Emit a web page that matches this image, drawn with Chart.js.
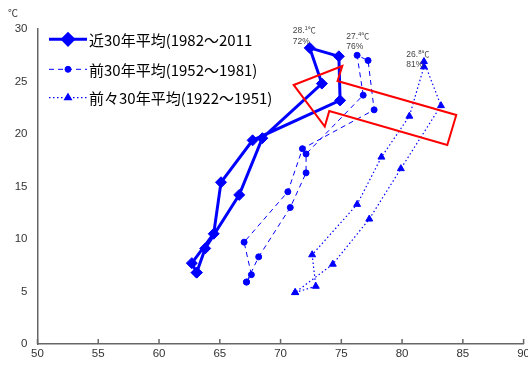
<!DOCTYPE html>
<html>
<head>
<meta charset="utf-8">
<script src="https://cdn.jsdelivr.net/npm/chart.js@4.4.1/dist/chart.umd.min.js"></script>
<style>
  html, body { margin: 0; padding: 0; background: #fff; overflow: hidden; }
  #wrap { width: 528px; height: 367px; position: relative; overflow: hidden; }
</style>
</head>
<body>
<div id="wrap"><canvas id="chart" width="533" height="367"></canvas></div>
<script>
// series names (legend)
const seriesNames = ['近30年平均(1982～2011', '前30年平均(1952～1981)', '前々30年平均(1922～1951)'];

// 近30年 : humidity (%) and temperature (℃), Jan..Dec
const recentHum  = [63.1, 62.7, 64.5, 65.1, 67.7, 74.9, 74.8, 72.4, 73.4, 68.5, 66.6, 63.8];
const recentTemp = [6.8, 7.7, 10.5, 15.4, 19.4, 23.2, 27.4, 28.2, 24.8, 19.6, 14.2, 9.1];

// 前30年 : the reference plots 13 markers on this loop, kept as drawn
const prevHum  = [67.2, 67.6, 67.0, 70.6, 71.8, 77.7, 77.2, 76.3, 76.8, 72.1, 72.1, 70.8, 68.2];
const prevTemp = [5.9, 6.6, 9.7, 14.5, 18.6, 22.3, 27.0, 27.5, 23.7, 18.1, 16.3, 13.0, 8.3];

// 前々30年
const oldHum  = [71.2, 72.9, 72.6, 76.3, 78.3, 80.6, 81.8, 81.8, 83.2, 79.9, 77.3, 74.3];
const oldTemp = [4.9, 5.5, 8.5, 13.3, 17.8, 21.7, 26.4, 26.9, 22.7, 16.7, 11.9, 7.6];

// peak notes (temp / humidity text)
const peakTemp = ['28.1', '27.4', '26.8'];
const peakHum  = ['72%', '76%', '81%'];
const peakNoteAt = [[71.0, 29.6], [75.4, 29.05], [80.35, 27.35]];

// red arrow outline, in (humidity, temperature) units
const arrowPath = [[75.08, 26.48], [74.69, 25.05], [84.46, 21.81], [83.72, 18.95],
                   [74.01, 22.19], [73.64, 20.70], [71.08, 24.67]];

const xTicks = [50, 55, 60, 65, 70, 75, 80, 85, 90];

const BLUE = '#0000ff';
const AXIS = '#666666';
const TICK_FONT = "'Liberation Sans', Arial, sans-serif";
const JP_FONT = "'Noto Sans CJK JP', sans-serif";

function loop(hum, temp) {
  const pts = hum.map((h, i) => ({ x: h, y: temp[i] }));
  pts.push(pts[0]);
  return pts;
}

// inward ticks, arrow, notes, legend, unit
const decor = {
  id: 'decor',
  afterDraw(chart) {
    const ctx = chart.ctx;
    const xs = chart.scales.x, ys = chart.scales.y;
    const area = chart.chartArea;

    ctx.save();
    // x ticks pointing up into the plot
    ctx.strokeStyle = AXIS;
    ctx.lineWidth = 1.5;
    xTicks.forEach(v => {
      const px = xs.getPixelForValue(v);
      ctx.beginPath();
      ctx.moveTo(px, area.bottom);
      ctx.lineTo(px, area.bottom - 5);
      ctx.stroke();
    });

    // red arrow
    ctx.strokeStyle = '#ff0000';
    ctx.lineWidth = 2;
    ctx.lineJoin = 'miter';
    ctx.beginPath();
    arrowPath.forEach((p, i) => {
      const px = xs.getPixelForValue(p[0]), py = ys.getPixelForValue(p[1]);
      if (i === 0) ctx.moveTo(px, py); else ctx.lineTo(px, py);
    });
    ctx.closePath();
    ctx.stroke();

    // peak notes
    ctx.fillStyle = '#444';
    ctx.textBaseline = 'alphabetic';
    ctx.textAlign = 'left';
    peakNoteAt.forEach((p, i) => {
      let px = xs.getPixelForValue(p[0]);
      const py = ys.getPixelForValue(p[1]);
      const parts = peakTemp[i].split('.');
      ctx.font = "8.5px 'Liberation Sans', Arial, sans-serif";
      ctx.fillText(parts[0] + '.', px, py);
      px += ctx.measureText(parts[0] + '.').width;
      ctx.font = "6px 'Liberation Sans', Arial, sans-serif";
      ctx.fillText(parts[1], px, py - 3);
      px += ctx.measureText(parts[1]).width;
      ctx.font = "8px " + JP_FONT;
      ctx.fillText('℃', px, py);
      ctx.font = "8.5px 'Liberation Sans', Arial, sans-serif";
      ctx.fillText(peakHum[i], xs.getPixelForValue(p[0]), py + 10.5);
    });

    // y unit
    ctx.fillStyle = '#333';
    ctx.font = "10px " + JP_FONT;
    ctx.fillText('℃', 8, 17);

    // legend
    const rows = [39.3, 69.3, 97.7];
    chart.data.datasets.forEach((ds, i) => {
      const y = rows[i];
      ctx.strokeStyle = ds.borderColor;
      ctx.lineWidth = ds.borderWidth;
      ctx.setLineDash(ds.borderDash || []);
      ctx.beginPath();
      ctx.moveTo(49, y);
      ctx.lineTo(87, y);
      ctx.stroke();
      ctx.setLineDash([]);
      ctx.fillStyle = ds.backgroundColor;
      Chart.helpers.drawPoint(ctx, {
        pointStyle: ds.pointStyle, radius: ds.pointRadius, rotation: 0, borderWidth: 1
      }, 68, y);
      ctx.fillStyle = '#000';
      ctx.font = "15px " + JP_FONT;
      ctx.textBaseline = 'middle';
      ctx.fillText(seriesNames[i], 89, y + 1);
      ctx.textBaseline = 'alphabetic';
    });
    ctx.restore();
  }
};

new Chart(document.getElementById('chart'), {
  type: 'scatter',
  data: {
    datasets: [
      {
        label: seriesNames[0],
        data: loop(recentHum, recentTemp),
        showLine: true,
        borderColor: BLUE,
        backgroundColor: BLUE,
        borderWidth: 3,
        pointStyle: 'rectRot',
        pointRadius: 5.5,
        pointBorderWidth: 1,
        tension: 0
      },
      {
        label: seriesNames[1],
        data: loop(prevHum, prevTemp),
        showLine: true,
        borderColor: BLUE,
        backgroundColor: BLUE,
        borderWidth: 1,
        borderDash: [5, 4],
        pointStyle: 'circle',
        pointRadius: 3,
        pointBorderWidth: 1,
        tension: 0
      },
      {
        label: seriesNames[2],
        data: loop(oldHum, oldTemp),
        showLine: true,
        borderColor: BLUE,
        backgroundColor: BLUE,
        borderWidth: 1.2,
        borderDash: [1.5, 2.5],
        pointStyle: 'triangle',
        pointRadius: 4,
        pointBorderWidth: 1,
        tension: 0
      }
    ]
  },
  options: {
    responsive: false,
    animation: false,
    devicePixelRatio: 1,
    layout: { padding: { top: 29, left: 0, right: 0, bottom: 0 } },
    plugins: {
      legend: { display: false },
      tooltip: { enabled: false }
    },
    scales: {
      x: {
        type: 'linear',
        min: 50,
        max: 90,
        ticks: { stepSize: 5, color: '#333', padding: 3, maxRotation: 0,
                 font: { family: TICK_FONT, size: 11.5 } },
        grid: { display: false, drawTicks: false },
        border: { display: true, color: AXIS, width: 1.5 },
        afterFit: s => { s.height = 23; }
      },
      y: {
        min: 0,
        max: 30,
        ticks: { stepSize: 5, color: '#333', padding: 10,
                 font: { family: TICK_FONT, size: 11.5 } },
        grid: { display: false, drawTicks: false },
        border: { display: true, color: AXIS, width: 1.5 },
        afterFit: s => { s.width = 37.5; }
      }
    }
  },
  plugins: [decor]
});
</script>
</body>
</html>
